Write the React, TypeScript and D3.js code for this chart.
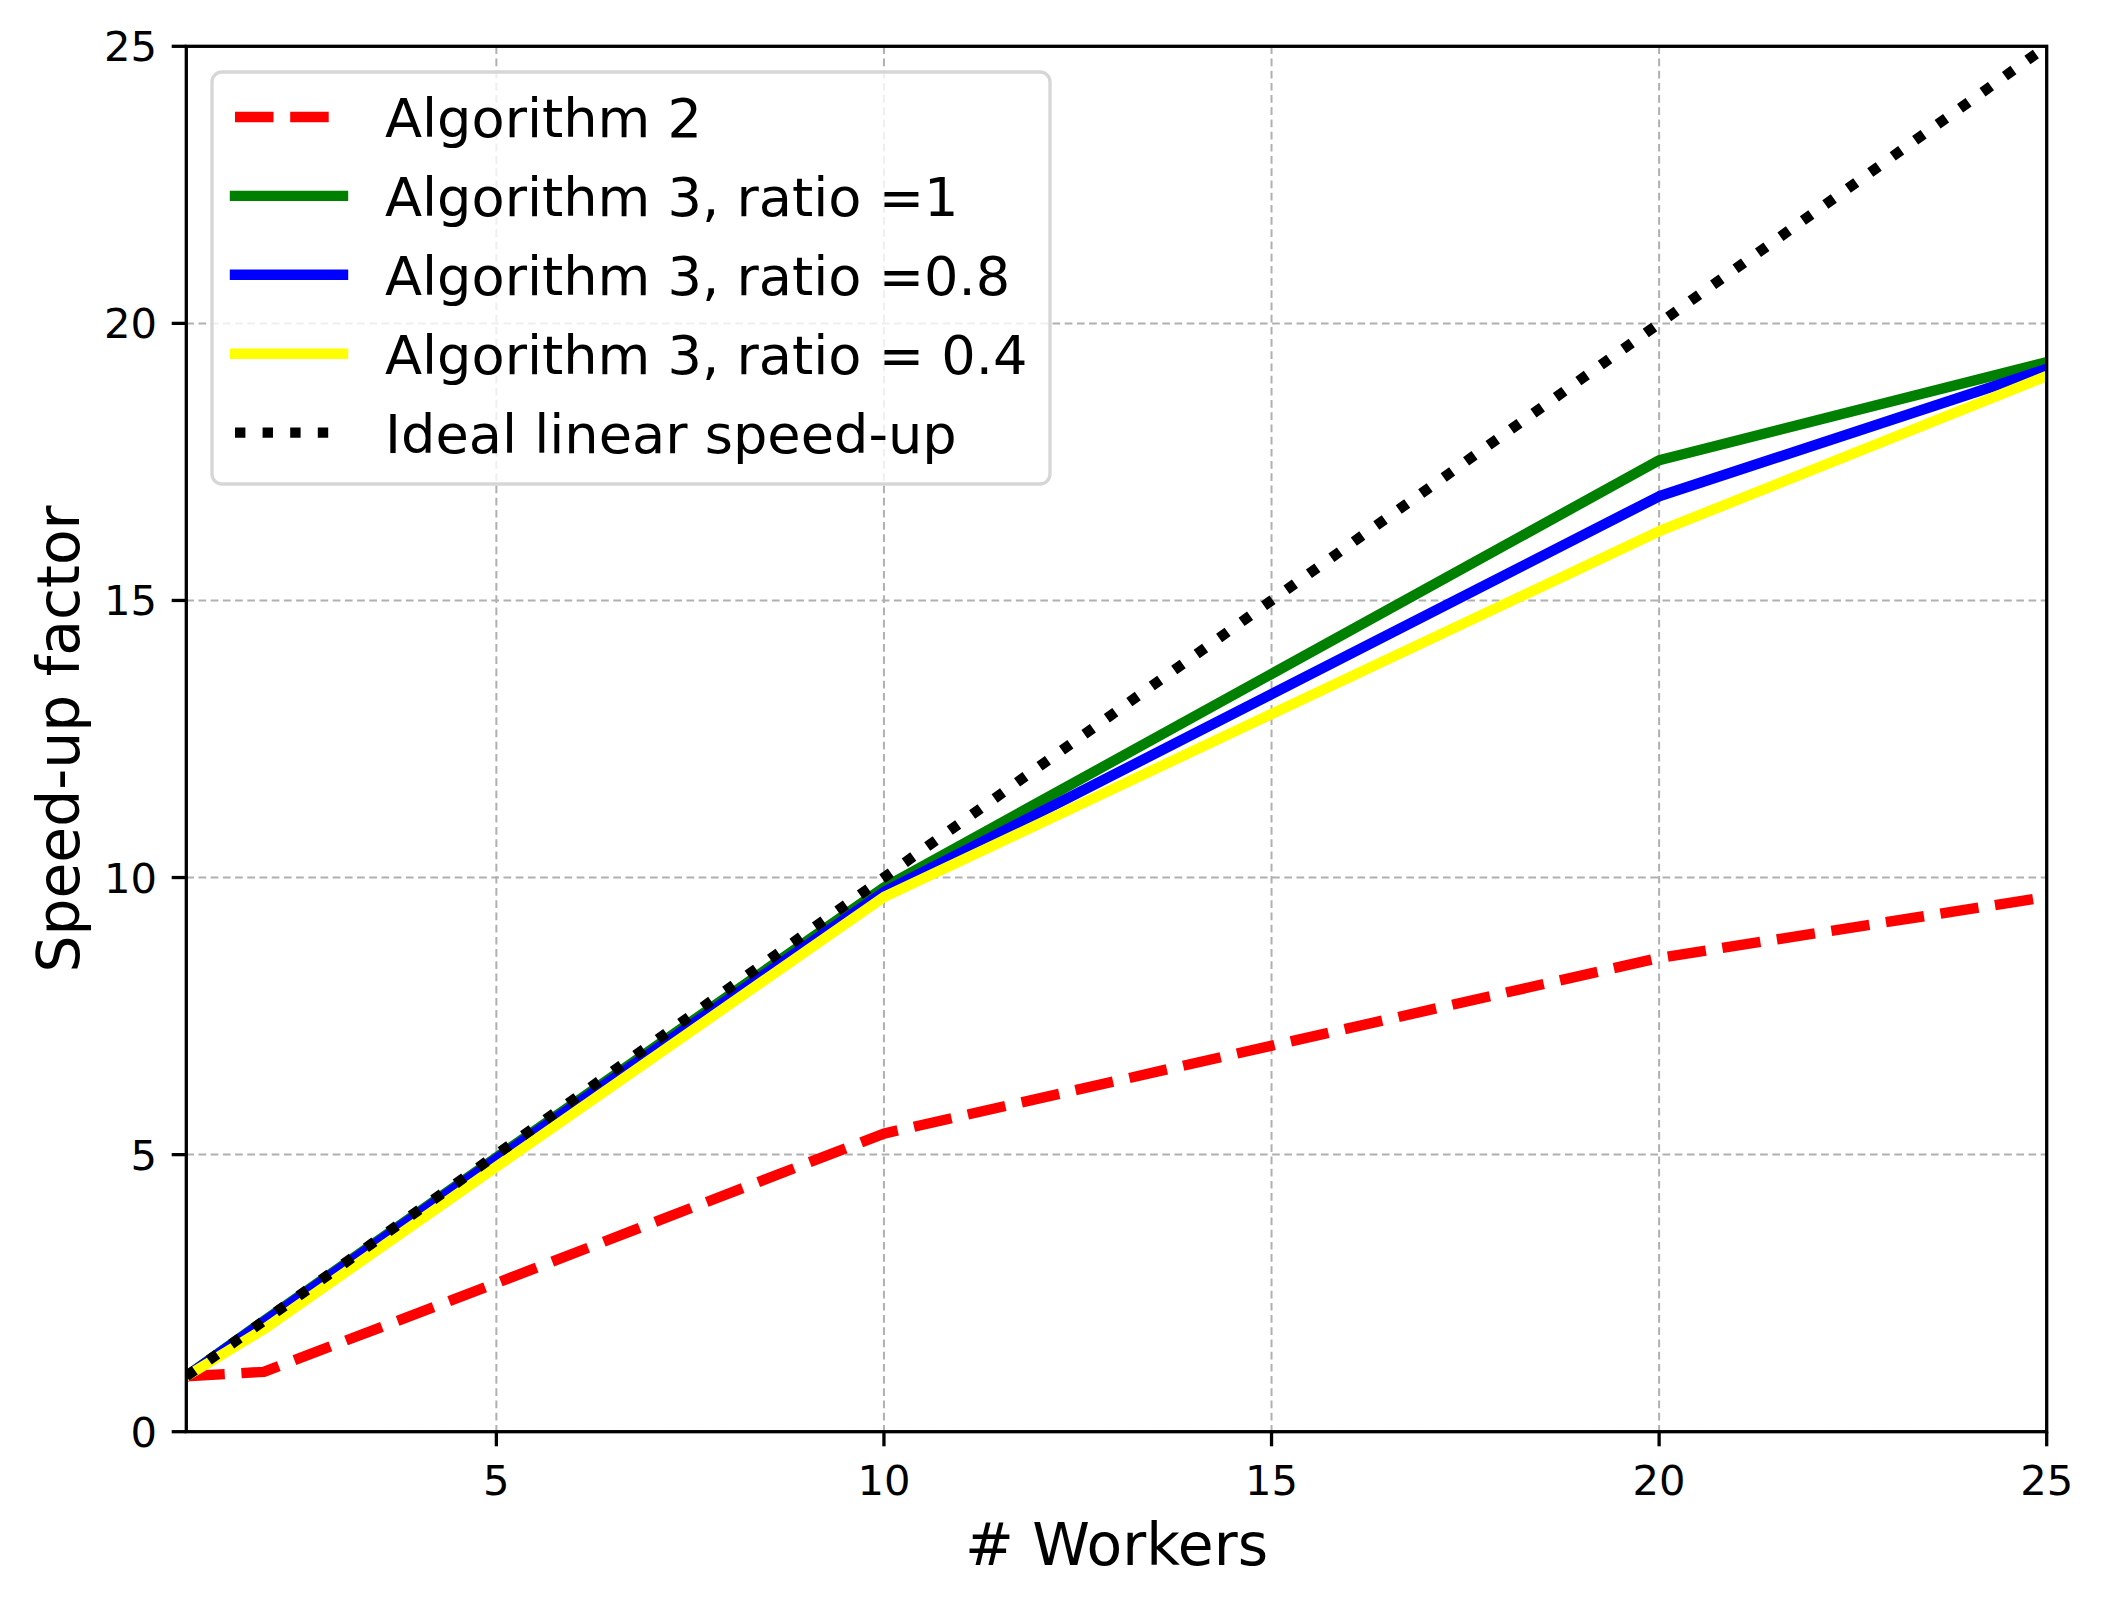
import React from "react";
import * as d3 from "d3";

const workers = [1, 2, 5, 10, 20, 25];
const algorithm2 = [1.0, 1.08, 2.68, 5.38, 8.55, 9.65];
const alg3Ratio1 = [1.0, 2.0, 4.95, 9.82, 17.53, 19.3];
const alg3Ratio08 = [1.0, 1.98, 4.92, 9.74, 16.88, 19.18];
const alg3Ratio04 = [1.0, 1.85, 4.78, 9.65, 16.25, 19.05];
const idealSpeedup = [1, 2, 5, 10, 20, 25];

const xTicks = [5, 10, 15, 20, 25];
const yTicks = [0, 5, 10, 15, 20, 25];

const seriesNames = [
  "Algorithm 2",
  "Algorithm 3, ratio =1",
  "Algorithm 3, ratio =0.8",
  "Algorithm 3, ratio = 0.4",
  "Ideal linear speed-up",
];

const W = 2102;
const H = 1607;
const M = { left: 186.3, right: 2046.7, top: 46.3, bottom: 1431.7 };
const FONT = "DejaVu Sans, sans-serif";
const LW = 10.4;

export default function App() {
  const x = d3.scaleLinear().domain([1, 25]).range([M.left, M.right]);
  const y = d3.scaleLinear().domain([0, 25]).range([M.bottom, M.top]);
  const line = d3
    .line<number>()
    .x((_, i) => x(workers[i]))
    .y((d) => y(d));

  const series = [
    { name: seriesNames[0], data: algorithm2, color: "#ff0000", dash: "38.5 16.7", cap: "butt" },
    { name: seriesNames[1], data: alg3Ratio1, color: "#008000", dash: null, cap: "square" },
    { name: seriesNames[2], data: alg3Ratio08, color: "#0000ff", dash: null, cap: "square" },
    { name: seriesNames[3], data: alg3Ratio04, color: "#ffff00", dash: null, cap: "square" },
    { name: seriesNames[4], data: idealSpeedup, color: "#000000", dash: "10.4 17.2", cap: "butt" },
  ];

  const legX = 212, legY = 72, legW = 1050 - 212, legH = 484 - 72;
  const handleX0 = 235, handleX1 = 343, handleY0 = 117, step = 78.9;

  return (
    <svg
      width={W}
      height={H}
      viewBox={`0 0 ${W} ${H}`}
      style={{ position: "absolute", left: 0, top: 0, background: "#fff" }}
      fontFamily={FONT}
    >
      <defs>
        <clipPath id="plotClip">
          <rect x={M.left} y={M.top} width={M.right - M.left} height={M.bottom - M.top} />
        </clipPath>
      </defs>
      <rect x={0} y={0} width={W} height={H} fill="#fff" />

      {/* grid */}
      <g stroke="#b0b0b0" strokeWidth={2} strokeDasharray="7.7 4.5">
        {xTicks.map((t) => (
          <line key={"gx" + t} x1={x(t)} x2={x(t)} y1={M.top} y2={M.bottom} />
        ))}
        {yTicks.map((t) => (
          <line key={"gy" + t} x1={M.left} x2={M.right} y1={y(t)} y2={y(t)} />
        ))}
      </g>

      {/* data lines */}
      <g clipPath="url(#plotClip)" fill="none">
        {series.map((s) => (
          <path
            key={s.name}
            d={line(s.data) || ""}
            stroke={s.color}
            strokeWidth={LW}
            strokeDasharray={s.dash || undefined}
            strokeLinecap={s.cap as any}
            strokeLinejoin="round"
          />
        ))}
      </g>

      {/* spines */}
      <rect
        x={M.left}
        y={M.top}
        width={M.right - M.left}
        height={M.bottom - M.top}
        fill="none"
        stroke="#000"
        strokeWidth={3.3}
        strokeLinejoin="miter"
      />

      {/* x ticks */}
      <g>
        {xTicks.map((t) => (
          <g key={"xt" + t}>
            <line x1={x(t)} x2={x(t)} y1={M.bottom} y2={M.bottom + 14.6} stroke="#000" strokeWidth={3.3} />
            <text x={x(t)} y={1495} fontSize={41.7} textAnchor="middle" fill="#000">
              {t}
            </text>
          </g>
        ))}
      </g>
      {/* y ticks */}
      <g>
        {yTicks.map((t) => (
          <g key={"yt" + t}>
            <line x1={M.left - 14.6} x2={M.left} y1={y(t)} y2={y(t)} stroke="#000" strokeWidth={3.3} />
            <text x={M.left - 14.6 - 14.6} y={y(t) + 15} fontSize={41.7} textAnchor="end" fill="#000">
              {t}
            </text>
          </g>
        ))}
      </g>

      {/* axis labels */}
      <text x={(M.left + M.right) / 2} y={1565} fontSize={58.3} textAnchor="middle" fill="#000">
        # Workers
      </text>
      <text
        transform={`translate(79, ${(M.top + M.bottom) / 2}) rotate(-90)`}
        fontSize={58.3}
        textAnchor="middle"
        fill="#000"
      >
        Speed-up factor
      </text>

      {/* legend */}
      <g>
        <rect
          x={legX}
          y={legY}
          width={legW}
          height={legH}
          rx={10}
          ry={10}
          fill="#fff"
          fillOpacity={0.8}
          stroke="#d6d6d6"
          strokeWidth={3.3}
        />
        {series.map((s, i) => {
          const hy = handleY0 + i * step;
          return (
            <g key={"leg" + i}>
              <line
                x1={handleX0}
                x2={handleX1}
                y1={hy}
                y2={hy}
                stroke={s.color}
                strokeWidth={LW}
                strokeDasharray={s.dash || undefined}
                strokeLinecap={s.cap as any}
              />
              <text x={385} y={hy + 20.3} fontSize={54.2} fill="#000">
                {s.name}
              </text>
            </g>
          );
        })}
      </g>
    </svg>
  );
}
